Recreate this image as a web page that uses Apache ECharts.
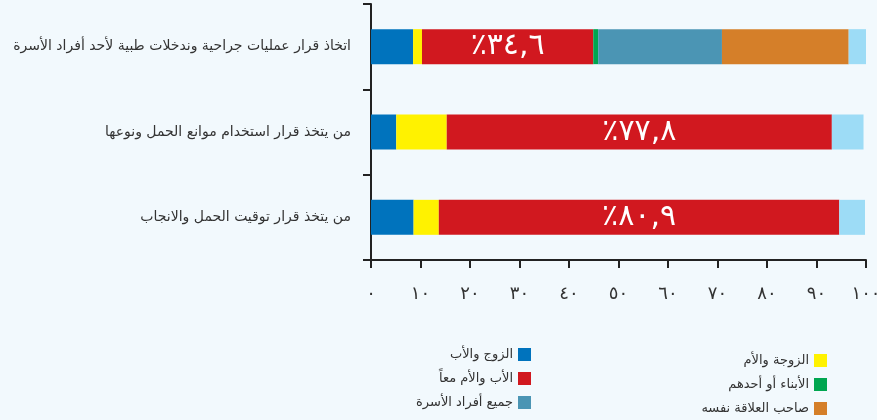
<!DOCTYPE html>
<html>
<head>
<meta charset="utf-8">
<script src="https://cdn.jsdelivr.net/npm/echarts@6/dist/echarts.min.js"></script>
<style>
  html, body { margin: 0; padding: 0; background: #f2f9fd; }
  #chart { width: 877px; height: 420px; }
</style>
</head>
<body>
<div id="chart"></div>
<script>
// الفئات (من الأعلى إلى الأسفل)
var categories = [
    'اتخاذ قرار عمليات جراحية وندخلات طبية لأحد أفراد الأسرة',
    'من يتخذ قرار استخدام موانع الحمل ونوعها',
    'من يتخذ قرار توقيت الحمل والانجاب'
];

var husbandFather = [8.5, 5.1, 8.6];      // الزوج والأب
var wifeMother = [1.8, 10.2, 5.1];        // الزوجة والأم
var bothParents = [34.6, 77.8, 80.9];     // الأب والأم معاً
var children = [1.0, null, null];         // الأبناء أو أحدهم
var allFamily = [25.0, null, null];       // جميع أفراد الأسرة
var self = [25.6, null, null];            // صاحب العلاقة نفسه
var other = [3.5, 6.4, 5.2];

var xTicks = [0, 10, 20, 30, 40, 50, 60, 70, 80, 90, 100];

var digits = '٠١٢٣٤٥٦٧٨٩';
function toArabic(n) {
    return String(n).replace(/\d/g, function (d) {
        return digits[d];
    }).replace('.', ',');
}

var myChart = echarts.init(document.getElementById('chart'));

var font = '"DejaVu Sans", sans-serif';

function bar(name, data, color, label) {
    var s = {
        name: name,
        type: 'bar',
        stack: 'total',
        barWidth: 35,
        data: data,
        itemStyle: {color: color},
        emphasis: {disabled: true}
    };
    if (label) {
        s.label = {
            show: true,
            position: 'inside',
            color: '#fff',
            fontSize: 30,
            fontFamily: font,
            formatter: function (p) {
                return '٪' + toArabic(p.value);
            }
        };
    }
    return s;
}

var legendText = {fontSize: 13, color: '#333', fontFamily: font};

var option = {
    backgroundColor: '#f2f9fd',
    animation: false,
    grid: {
        left: 371,
        right: 11,
        top: 4,
        bottom: 160,
        outerBoundsMode: 'none'
    },
    legend: [{
        orient: 'vertical',
        right: 341,
        bottom: 6,
        align: 'right',
        itemWidth: 13,
        itemHeight: 13,
        itemGap: 11,
        icon: 'rect',
        textStyle: legendText,
        data: ['الزوج والأب', 'الأب والأم معاً', 'جميع أفراد الأسرة']
    }, {
        orient: 'vertical',
        right: 45,
        bottom: 0,
        align: 'right',
        itemWidth: 13,
        itemHeight: 13,
        itemGap: 11,
        icon: 'rect',
        textStyle: legendText,
        data: ['الزوجة والأم', 'الأبناء أو أحدهم', 'صاحب العلاقة نفسه']
    }],
    xAxis: {
        type: 'value',
        min: 0,
        max: 100,
        interval: 10,
        axisLine: {show: true, lineStyle: {color: '#222', width: 2}},
        axisTick: {show: true, length: 8, lineStyle: {color: '#222', width: 2}},
        splitLine: {show: false},
        axisLabel: {
            margin: 25,
            fontSize: 18,
            color: '#333',
            fontFamily: font,
            formatter: function (v) {
                return xTicks.indexOf(v) >= 0 ? toArabic(v) : '';
            }
        }
    },
    yAxis: {
        type: 'category',
        inverse: true,
        data: categories,
        axisLine: {show: true, lineStyle: {color: '#222', width: 2}},
        axisTick: {show: true, length: 8, lineStyle: {color: '#222', width: 2}},
        axisLabel: {
            margin: 20,
            fontSize: 14,
            color: '#333',
            fontFamily: font
        }
    },
    series: [
        bar('الزوج والأب', husbandFather, '#0073bd'),
        bar('الزوجة والأم', wifeMother, '#fff200'),
        bar('الأب والأم معاً', bothParents, '#d1181f', true),
        bar('الأبناء أو أحدهم', children, '#00a650'),
        bar('جميع أفراد الأسرة', allFamily, '#4b95b4'),
        bar('صاحب العلاقة نفسه', self, '#d57f29'),
        bar('أخرى', other, '#9ddcf6')
    ]
};

myChart.setOption(option);
</script>
</body>
</html>
